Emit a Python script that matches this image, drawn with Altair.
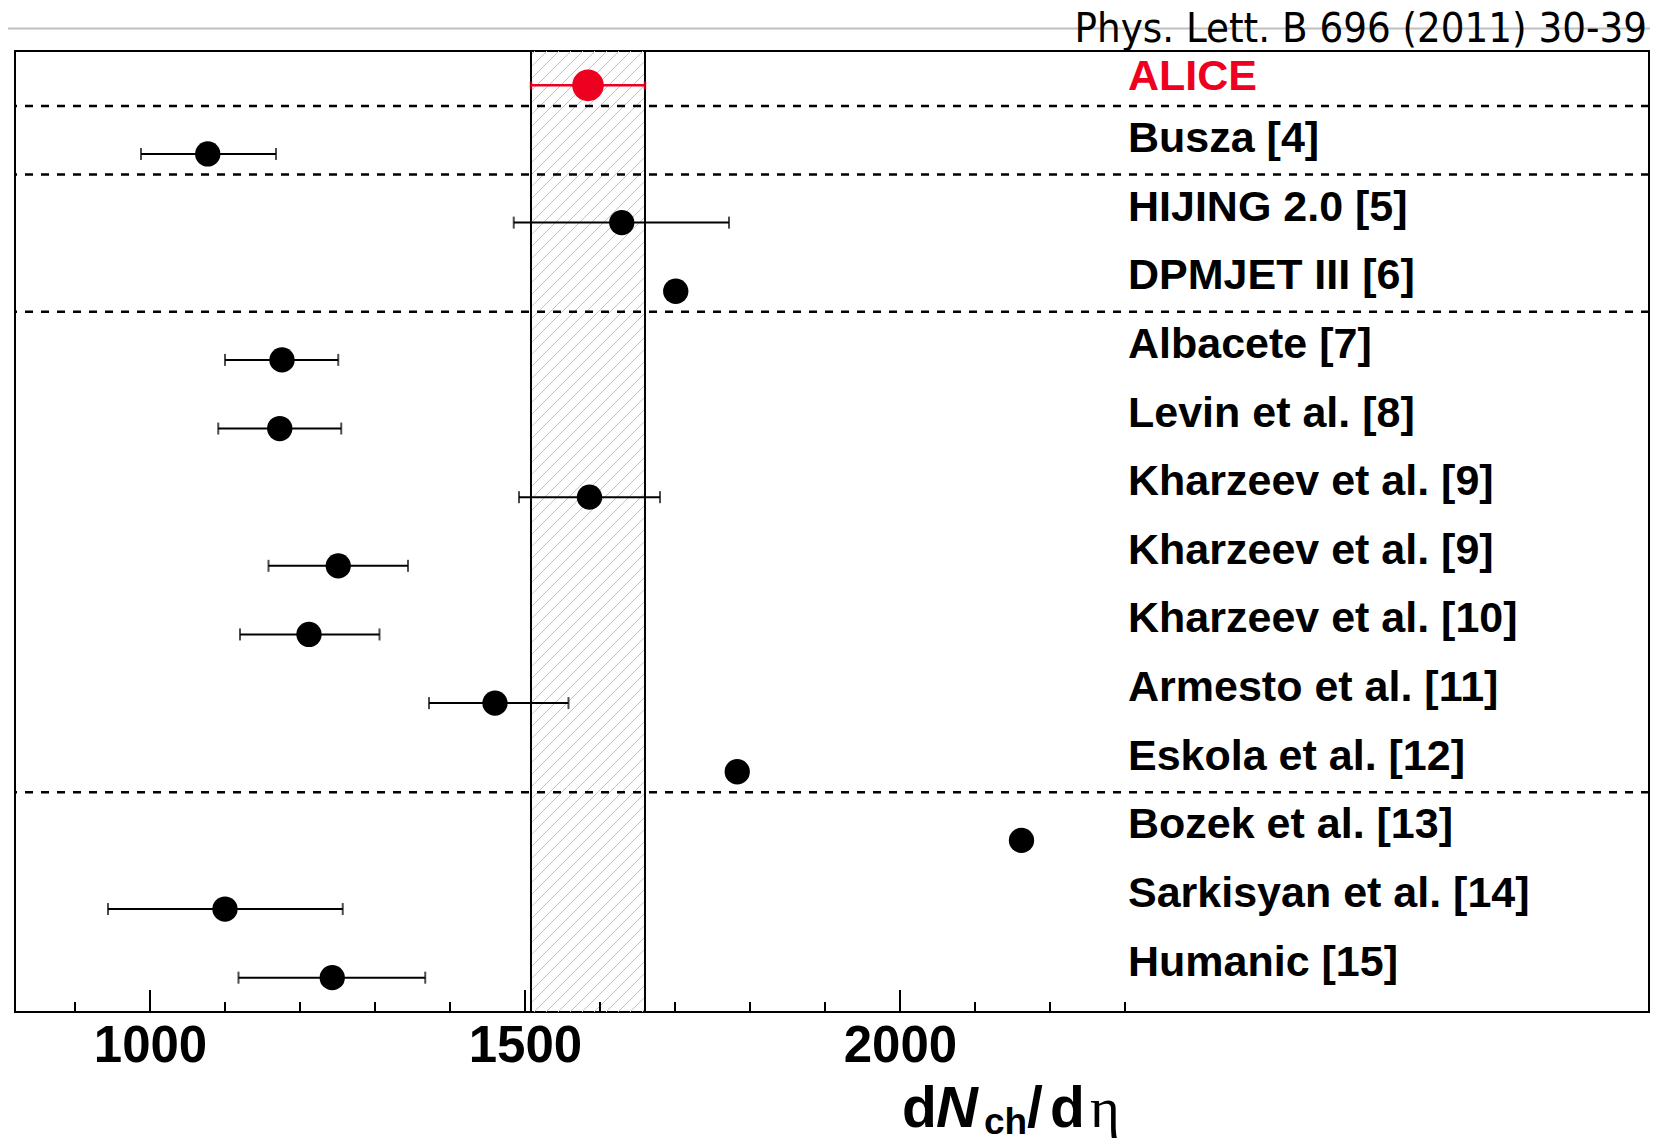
import altair as alt
import pandas as pd

# ---------------- data ----------------
names = ["ALICE", "Busza [4]", "HIJING 2.0 [5]", "DPMJET III [6]", "Albacete [7]",
         "Levin et al. [8]", "Kharzeev et al. [9]", "Kharzeev et al. [9]",
         "Kharzeev et al. [10]", "Armesto et al. [11]", "Eskola et al. [12]",
         "Bozek et al. [13]", "Sarkisyan et al. [14]", "Humanic [15]"]
values = [1584, 1077, 1629, 1701, 1176, 1173, 1586, 1251, 1212, 1460, 1783, 2162, 1100, 1243]
err_lo = [1508, 988, 1485, None, 1100, 1091, 1492, 1158, 1120, 1372, None, None, 944, 1118]
err_hi = [1660, 1168, 1772, None, 1251, 1255, 1680, 1344, 1306, 1558, None, None, 1257, 1367]
separators = [0.3, 1.3, 3.3, 10.3]
band = [1508, 1660]
major_ticks = [1000, 1500, 2000]
minor_ticks = list(range(900, 2400, 100))
x_domain = [820, 2998.7]
y_domain = [-0.5, 13.5]

W, H = 1634, 961
RED = "#ee0020"
FONT = "Liberation Sans"

df = pd.DataFrame({"name": names, "value": values, "lo": err_lo, "hi": err_hi,
                   "row": list(range(len(names)))})
df_err = df.dropna(subset=["lo", "hi"])
df_alice = df[df["name"] == "ALICE"]
df_models = df[df["name"] != "ALICE"]
df_err_models = df_err[df_err["name"] != "ALICE"]
df_err_alice = df_err[df_err["name"] == "ALICE"]

# hatch segments for the ALICE systematic band (45 deg in pixel space)
def px(v):
    return (v - x_domain[0]) / (x_domain[1] - x_domain[0]) * W

def inv_x(p):
    return x_domain[0] + p / W * (x_domain[1] - x_domain[0])

def inv_y(p):
    return y_domain[0] + p / H * (y_domain[1] - y_domain[0])

xl, xr = px(band[0]), px(band[1])
hatch = []
spacing = 12.0
c = xl + 4
while c < xr + H:
    a = max(xl, c - H)
    b = min(xr, c)
    if b > a:
        hatch.append({"x1": inv_x(a), "y1": inv_y(c - a), "x2": inv_x(b), "y2": inv_y(c - b)})
    c += spacing
df_hatch = pd.DataFrame(hatch)

xs = alt.Scale(domain=x_domain, nice=False, zero=False)
ys = alt.Scale(domain=y_domain, nice=False, zero=False, reverse=True)
xaxis = alt.Axis(values=major_ticks, format="d", labelFont=FONT, labelFontSize=51,
                 labelFontWeight="bold", labelColor="black", ticks=False, tickSize=0,
                 domain=False, grid=False, labelPadding=9, title=None)

hatch_layer = alt.Chart(df_hatch).mark_rule(color="#c4c4c4", strokeWidth=1).encode(
    x=alt.X("x1:Q", scale=xs, axis=xaxis), x2="x2:Q",
    y=alt.Y("y1:Q", scale=ys, axis=None), y2="y2:Q")

band_edges = alt.Chart(pd.DataFrame({"b": band})).mark_rule(color="black", strokeWidth=2).encode(
    x=alt.X("b:Q", scale=xs, axis=xaxis))

sep_layer = alt.Chart(pd.DataFrame({"s": separators})).mark_rule(
    color="black", strokeWidth=2.5, strokeDash=[8, 8]).encode(
    y=alt.Y("s:Q", scale=ys, axis=None))

err_layer = alt.Chart(df_err_models).mark_rule(color="black", strokeWidth=2).encode(
    x=alt.X("lo:Q", scale=xs, axis=xaxis), x2="hi:Q",
    y=alt.Y("row:Q", scale=ys, axis=None))
cap_lo = alt.Chart(df_err_models).mark_tick(color="black", orient="vertical", size=12, thickness=2).encode(
    x=alt.X("lo:Q", scale=xs, axis=xaxis), y=alt.Y("row:Q", scale=ys, axis=None))
cap_hi = alt.Chart(df_err_models).mark_tick(color="black", orient="vertical", size=12, thickness=2).encode(
    x=alt.X("hi:Q", scale=xs, axis=xaxis), y=alt.Y("row:Q", scale=ys, axis=None))

err_alice = alt.Chart(df_err_alice).mark_rule(color=RED, strokeWidth=2.5).encode(
    x=alt.X("lo:Q", scale=xs, axis=xaxis), x2="hi:Q",
    y=alt.Y("row:Q", scale=ys, axis=None))
cap_alice_lo = alt.Chart(df_err_alice).mark_tick(color=RED, orient="vertical", size=8, thickness=2.5).encode(
    x=alt.X("lo:Q", scale=xs, axis=xaxis), y=alt.Y("row:Q", scale=ys, axis=None))
cap_alice_hi = alt.Chart(df_err_alice).mark_tick(color=RED, orient="vertical", size=8, thickness=2.5).encode(
    x=alt.X("hi:Q", scale=xs, axis=xaxis), y=alt.Y("row:Q", scale=ys, axis=None))

pts = alt.Chart(df_models).mark_circle(color="black", size=640, opacity=1).encode(
    x=alt.X("value:Q", scale=xs, axis=xaxis), y=alt.Y("row:Q", scale=ys, axis=None))
pt_alice = alt.Chart(df_alice).mark_circle(color=RED, size=1000, opacity=1).encode(
    x=alt.X("value:Q", scale=xs, axis=xaxis), y=alt.Y("row:Q", scale=ys, axis=None))

labels = alt.Chart(df_models).mark_text(align="left", baseline="alphabetic", font=FONT,
                                        fontSize=43, fontWeight="bold", dy=-2, color="black").encode(
    x=alt.value(1113), y=alt.Y("row:Q", scale=ys, axis=None), text="name:N")
label_alice = alt.Chart(df_alice).mark_text(align="left", baseline="alphabetic", font=FONT,
                                            fontSize=43, fontWeight="bold", dy=5, color=RED).encode(
    x=alt.value(1113), y=alt.Y("row:Q", scale=ys, axis=None), text="name:N")

minor = alt.Chart(pd.DataFrame({"t": minor_ticks})).mark_rule(color="black", strokeWidth=2).encode(
    x=alt.X("t:Q", scale=xs, axis=xaxis), y=alt.value(H), y2=alt.value(H - 10))
major = alt.Chart(pd.DataFrame({"t": major_ticks})).mark_rule(color="black", strokeWidth=2).encode(
    x=alt.X("t:Q", scale=xs, axis=xaxis), y=alt.value(H), y2=alt.value(H - 22))

# top decorations
top_line = alt.Chart(pd.DataFrame({"k": [0]})).mark_rule(color="#c0c0c0", strokeWidth=2).encode(
    x=alt.value(-15), x2=alt.value(1650), y=alt.value(-22.5))
ref_text = alt.Chart(pd.DataFrame({"t": ["Phys. Lett. B 696 (2011) 30-39"]})).mark_text(
    align="right", baseline="alphabetic",
    font="Liberation Sans Narrow, DejaVu Sans Condensed, Liberation Sans",
    fontSize=41.5, color="black").encode(x=alt.value(1632), y=alt.value(-9), text="t:N")

# axis title pieces: d N_ch / d eta
def piece(txt, x, y, size, style="normal", weight="bold", font=FONT):
    return alt.Chart(pd.DataFrame({"t": [txt]})).mark_text(
        align="left", baseline="alphabetic", font=font, fontSize=size,
        fontStyle=style, fontWeight=weight, color="black").encode(
        x=alt.value(x), y=alt.value(y), text="t:N")

title_parts = [
    piece("d", 887, 1076, 57),
    piece("N", 921, 1076, 58, style="italic"),
    piece("ch", 969, 1083, 37),
    piece("/", 1012, 1076, 57),
    piece("d", 1035, 1076, 57),
    piece("η", 1075, 1076, 57, weight="normal", font="Liberation Serif"),
]

chart = alt.layer(
    hatch_layer, band_edges, sep_layer, err_layer, cap_lo, cap_hi,
    err_alice, cap_alice_lo, cap_alice_hi, pts, pt_alice, labels, label_alice, minor, major,
    top_line, ref_text, *title_parts
).properties(
    width=W, height=H,
    padding={"left": 7, "top": 43, "right": 1, "bottom": 126},
    autosize=alt.AutoSizeParams(type="none"),
    background="white",
).configure_view(stroke="black", strokeWidth=2)

chart.save("out.html", embed_options={"renderer": "svg", "actions": False})
